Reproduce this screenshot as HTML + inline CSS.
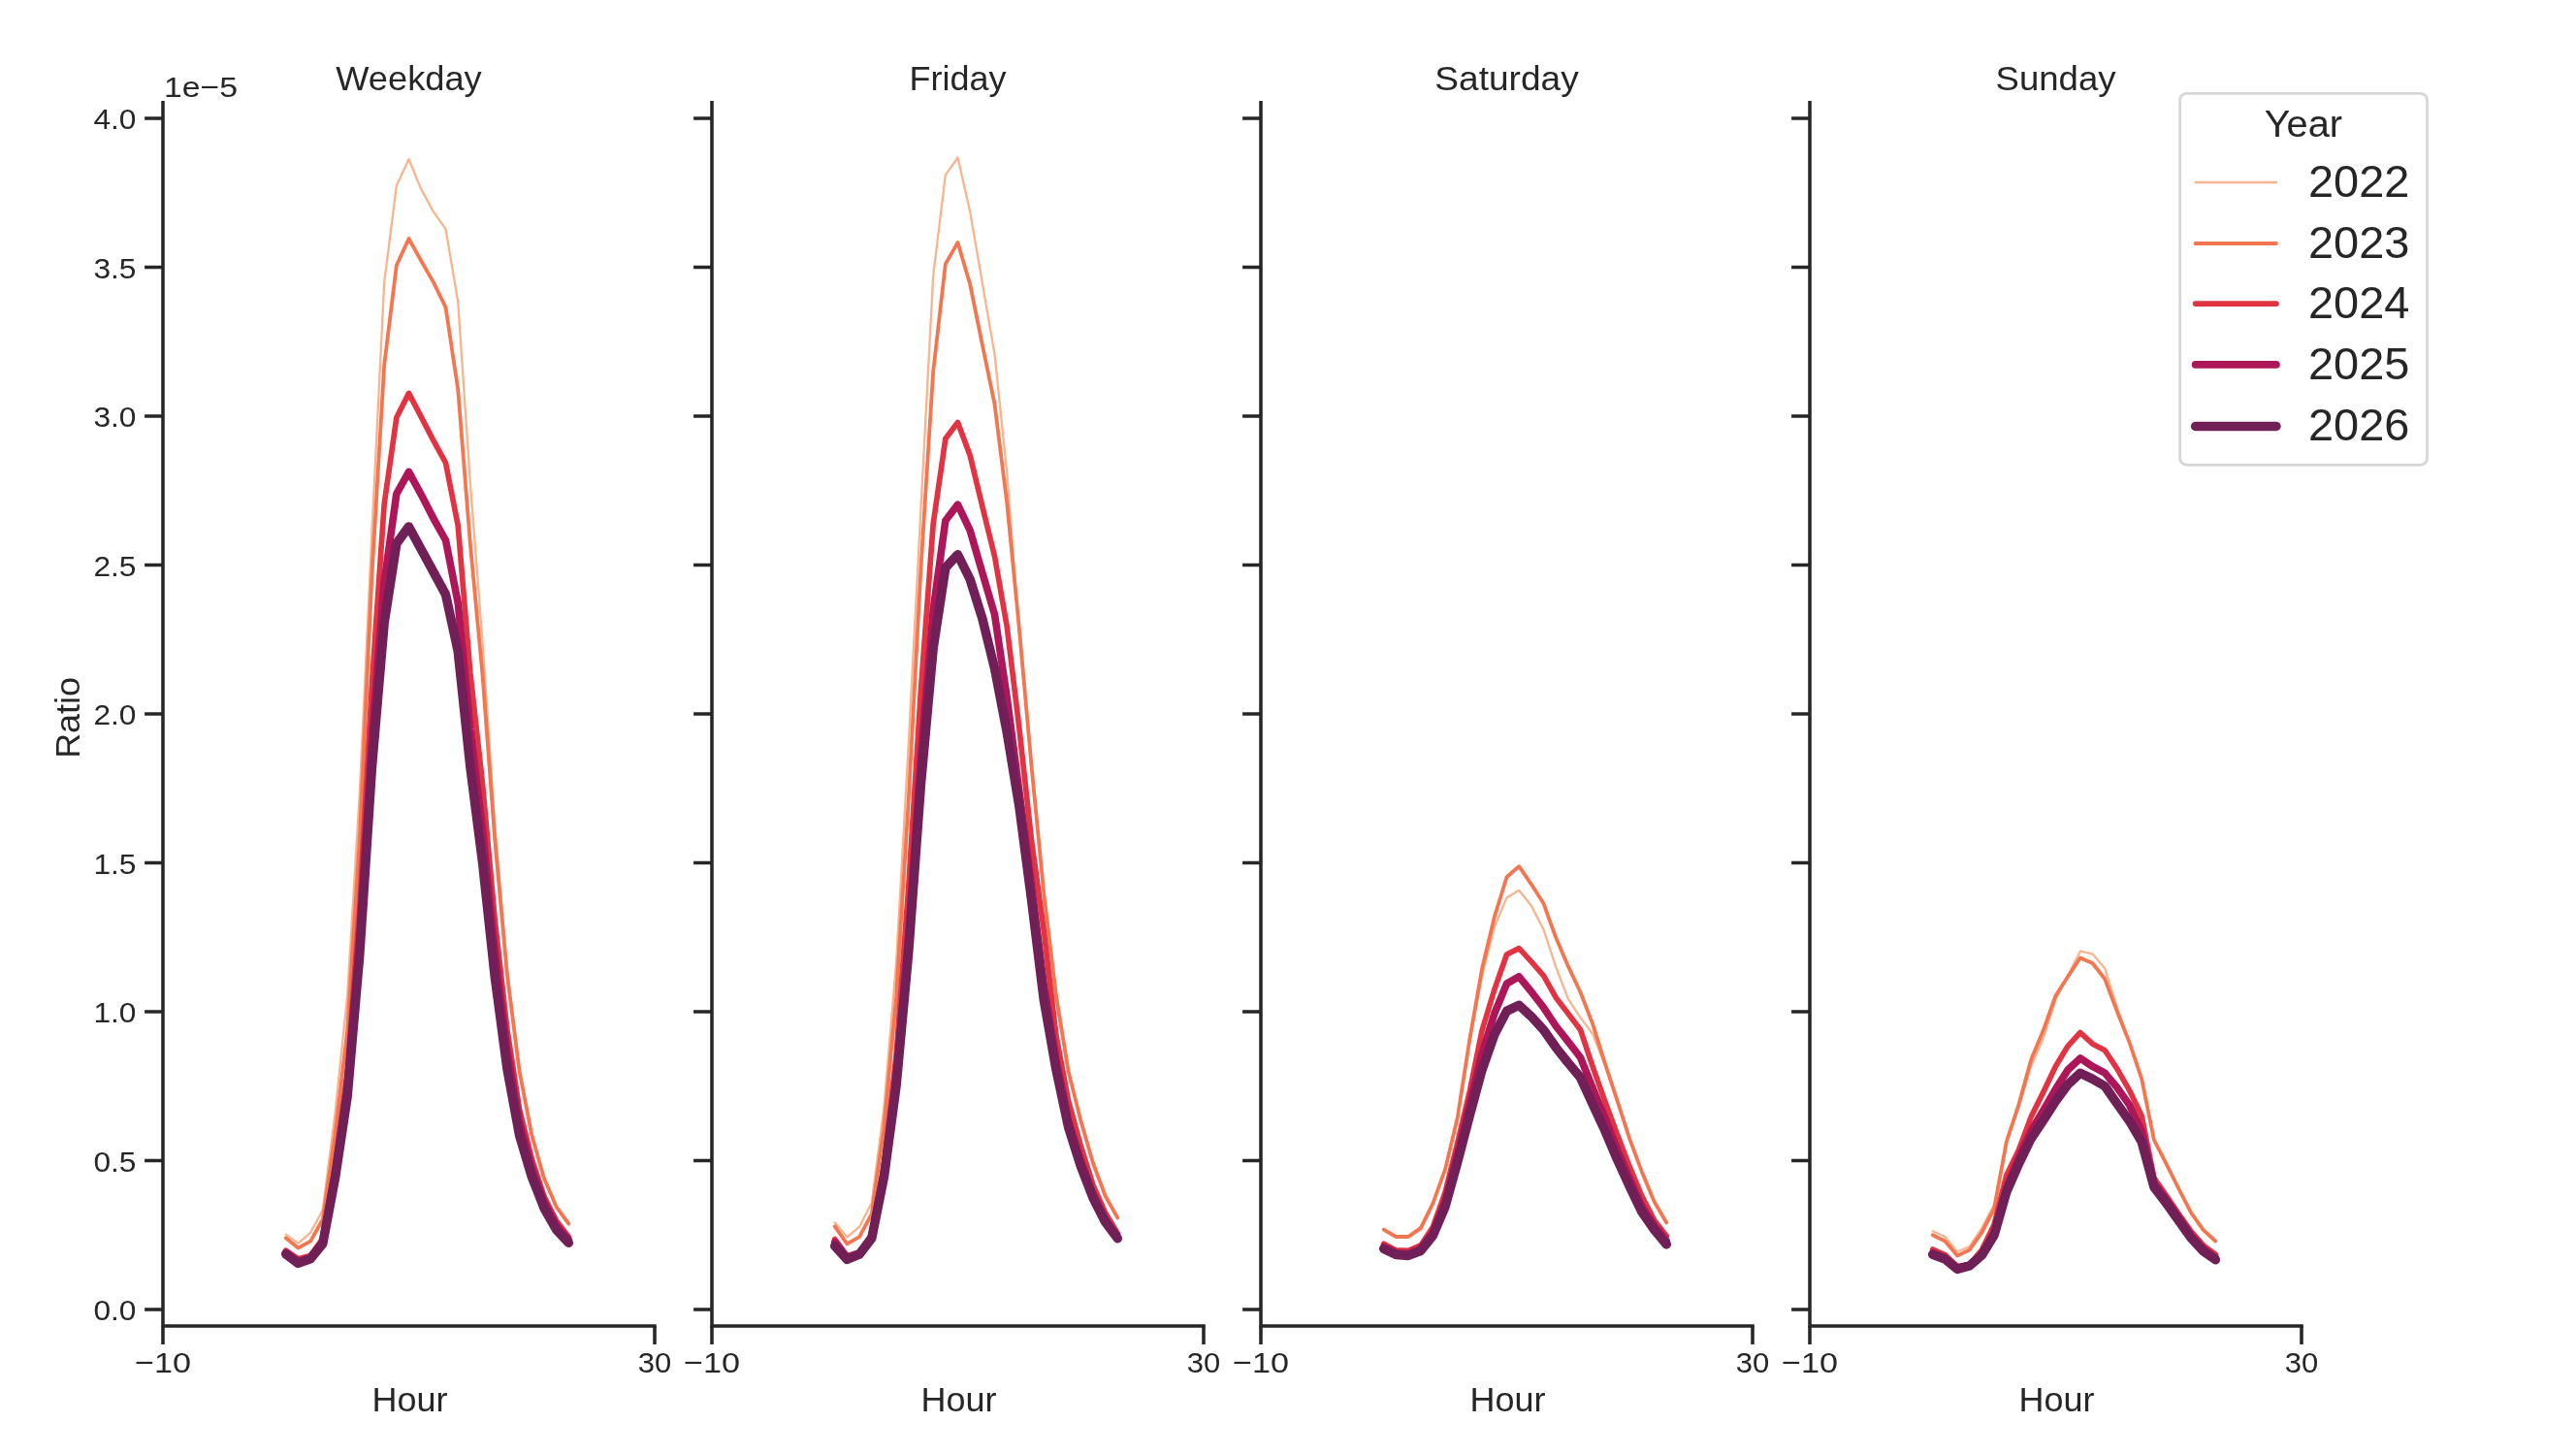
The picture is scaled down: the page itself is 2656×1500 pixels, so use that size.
<!DOCTYPE html>
<html lang="en">
<head>
<meta charset="utf-8">
<title>Ratio by Hour</title>
<style>
html,body{margin:0;padding:0;background:#ffffff;}
body{width:2656px;height:1500px;overflow:hidden;}
svg{display:block;will-change:transform;}
svg text{font-family:"Liberation Sans", sans-serif;fill:#262626;}
</style>
</head>
<body>
<svg width="2656" height="1500" viewBox="0 0 2656 1500">
<rect x="0" y="0" width="2656" height="1500" fill="#ffffff"/>
<polyline points="294.75,1272.57 307.43,1281.63 320.10,1270.92 332.77,1247.46 345.45,1148.46 358.12,1026.73 370.80,818.13 383.48,547.81 396.15,291.46 408.83,191.38 421.50,164.06 434.18,195.07 446.85,218.09 459.53,236.20 472.20,310.81 484.88,498.08 497.55,662.32 510.23,849.59 522.90,1000.02 535.58,1104.40 548.25,1171.94 560.92,1216.15 573.60,1245.31 586.28,1262.51" fill="none" stroke="#f6b48f" stroke-width="2.3" stroke-linejoin="round" stroke-linecap="round"/>
<polyline points="294.75,1276.32 307.43,1286.60 320.10,1279.57 332.77,1257.29 345.45,1170.40 358.12,1062.95 370.80,864.94 383.48,593.25 396.15,376.81 408.83,273.66 421.50,246.03 434.18,268.75 446.85,290.85 459.53,316.94 472.20,401.37 484.88,561.01 497.55,696.09 510.23,865.55 522.90,1004.62 535.58,1104.40 548.25,1169.91 560.92,1214.40 573.60,1244.09 586.28,1261.40" fill="none" stroke="#f37651" stroke-width="3.8" stroke-linejoin="round" stroke-linecap="round"/>
<polyline points="294.75,1289.21 307.43,1297.81 320.10,1294.43 332.77,1276.93 345.45,1201.93 358.12,1105.17 370.80,934.79 383.48,704.58 396.15,519.87 408.83,430.53 421.50,405.36 434.18,429.61 446.85,454.17 459.53,477.20 472.20,541.67 484.88,693.94 497.55,808.45 510.23,948.14 522.90,1061.42 535.58,1143.70 548.25,1194.66 560.92,1233.34 573.60,1258.51 586.28,1275.09" fill="none" stroke="#e13342" stroke-width="5.7" stroke-linejoin="round" stroke-linecap="round"/>
<polyline points="294.75,1291.36 307.43,1300.88 320.10,1296.28 332.77,1280.00 345.45,1209.89 358.12,1121.11 370.80,966.38 383.48,760.53 396.15,600.34 408.83,509.13 421.50,486.41 434.18,509.74 446.85,534.30 459.53,557.02 472.20,621.49 484.88,751.35 497.55,856.15 510.23,981.18 522.90,1082.91 535.58,1157.53 548.25,1203.95 560.92,1238.87 573.60,1263.35 586.28,1278.16" fill="none" stroke="#ad1759" stroke-width="7.6" stroke-linejoin="round" stroke-linecap="round"/>
<polyline points="294.75,1292.90 307.43,1302.41 320.10,1297.81 332.77,1282.15 345.45,1214.92 358.12,1130.49 370.80,984.06 383.48,790.65 396.15,642.36 408.83,560.40 421.50,542.90 434.18,566.23 446.85,589.56 459.53,612.89 472.20,671.22 484.88,790.65 497.55,889.50 510.23,1006.77 522.90,1101.94 535.58,1170.40 548.25,1213.08 560.92,1245.31 573.60,1267.72 586.28,1281.23" fill="none" stroke="#701f57" stroke-width="9.5" stroke-linejoin="round" stroke-linecap="round"/>
<path d="M168.00,105.85V1367.00H675.00" fill="none" stroke="#262626" stroke-width="3.55" stroke-linecap="square" stroke-linejoin="miter"/>
<path d="M168.00,1350.00h-18.90M168.00,1196.50h-18.90M168.00,1043.00h-18.90M168.00,889.50h-18.90M168.00,736.00h-18.90M168.00,582.50h-18.90M168.00,429.00h-18.90M168.00,275.50h-18.90M168.00,122.00h-18.90M168.00,1367.00v18.90M675.00,1367.00v18.90" fill="none" stroke="#262626" stroke-width="3.55"/>
<text x="421.5" y="93.0" font-size="34.5" text-anchor="middle" textLength="150.5" lengthAdjust="spacingAndGlyphs">Weekday</text>
<text x="168.0" y="1415.0" font-size="30.3" text-anchor="middle" textLength="58.0" lengthAdjust="spacingAndGlyphs">−10</text>
<text x="675.0" y="1415.0" font-size="30.3" text-anchor="middle" textLength="34.5" lengthAdjust="spacingAndGlyphs">30</text>
<text x="422.5" y="1455.0" font-size="34.5" text-anchor="middle" textLength="78.0" lengthAdjust="spacingAndGlyphs">Hour</text>
<polyline points="860.75,1260.20 873.42,1275.46 886.10,1264.75 898.77,1240.09 911.45,1141.59 924.12,991.44 936.80,766.70 949.48,524.17 962.15,284.71 974.83,180.33 987.50,162.52 1000.17,218.09 1012.85,291.77 1025.53,365.14 1038.20,487.02 1050.88,653.11 1063.55,792.80 1076.22,923.27 1088.90,1029.18 1101.58,1106.55 1114.25,1156.59 1126.92,1200.18 1139.60,1233.95 1152.28,1256.37" fill="none" stroke="#f6b48f" stroke-width="2.3" stroke-linejoin="round" stroke-linecap="round"/>
<polyline points="860.75,1264.35 873.42,1282.46 886.10,1275.03 898.77,1251.55 911.45,1162.97 924.12,1027.66 936.80,824.72 949.48,585.88 962.15,383.56 974.83,272.12 987.50,250.02 1000.17,293.00 1012.85,355.32 1025.53,416.72 1038.20,518.03 1050.88,647.89 1063.55,789.73 1076.22,920.20 1088.90,1026.12 1101.58,1104.40 1114.25,1155.06 1126.92,1198.77 1139.60,1232.73 1152.28,1255.32" fill="none" stroke="#f37651" stroke-width="3.8" stroke-linejoin="round" stroke-linecap="round"/>
<polyline points="860.75,1277.55 873.42,1294.74 886.10,1291.06 898.77,1273.25 911.45,1200.86 924.12,1087.42 936.80,913.45 949.48,711.44 962.15,540.44 974.83,452.33 987.50,435.45 1000.17,469.52 1012.85,522.02 1025.53,573.60 1038.20,645.74 1050.88,750.43 1063.55,866.48 1076.22,959.19 1088.90,1067.56 1101.58,1135.10 1114.25,1181.15 1126.92,1221.67 1139.60,1250.22 1152.28,1271.41" fill="none" stroke="#e13342" stroke-width="5.7" stroke-linejoin="round" stroke-linecap="round"/>
<polyline points="860.75,1280.80 873.42,1296.58 886.10,1291.67 898.77,1274.48 911.45,1208.61 924.12,1109.75 936.80,963.88 949.48,779.94 962.15,629.11 974.83,536.76 987.50,520.18 1000.17,546.89 1012.85,590.48 1025.53,633.46 1038.20,719.11 1050.88,815.82 1063.55,912.52 1076.22,1015.37 1088.90,1092.73 1101.58,1155.36 1114.25,1196.81 1126.92,1230.88 1139.60,1256.67 1152.28,1274.79" fill="none" stroke="#ad1759" stroke-width="7.6" stroke-linejoin="round" stroke-linecap="round"/>
<polyline points="860.75,1284.61 873.42,1298.42 886.10,1293.20 898.77,1276.63 911.45,1213.38 924.12,1119.14 936.80,980.99 949.48,808.14 962.15,668.46 974.83,585.26 987.50,571.75 1000.17,597.24 1012.85,637.76 1025.53,689.03 1038.20,754.73 1050.88,831.48 1063.55,927.88 1076.22,1030.41 1088.90,1102.56 1101.58,1162.12 1114.25,1202.03 1126.92,1234.88 1139.60,1259.74 1152.28,1276.78" fill="none" stroke="#701f57" stroke-width="9.5" stroke-linejoin="round" stroke-linecap="round"/>
<path d="M734.00,105.85V1367.00H1241.00" fill="none" stroke="#262626" stroke-width="3.55" stroke-linecap="square" stroke-linejoin="miter"/>
<path d="M734.00,1350.00h-18.90M734.00,1196.50h-18.90M734.00,1043.00h-18.90M734.00,889.50h-18.90M734.00,736.00h-18.90M734.00,582.50h-18.90M734.00,429.00h-18.90M734.00,275.50h-18.90M734.00,122.00h-18.90M734.00,1367.00v18.90M1241.00,1367.00v18.90" fill="none" stroke="#262626" stroke-width="3.55"/>
<text x="987.5" y="93.0" font-size="34.5" text-anchor="middle" textLength="100.0" lengthAdjust="spacingAndGlyphs">Friday</text>
<text x="734.0" y="1415.0" font-size="30.3" text-anchor="middle" textLength="58.0" lengthAdjust="spacingAndGlyphs">−10</text>
<text x="1241.0" y="1415.0" font-size="30.3" text-anchor="middle" textLength="34.5" lengthAdjust="spacingAndGlyphs">30</text>
<text x="988.5" y="1455.0" font-size="34.5" text-anchor="middle" textLength="78.0" lengthAdjust="spacingAndGlyphs">Hour</text>
<polyline points="1426.75,1267.72 1439.42,1275.00 1452.10,1274.17 1464.78,1264.65 1477.45,1239.48 1490.12,1205.40 1502.80,1152.11 1515.47,1072.16 1528.15,1006.47 1540.83,955.63 1553.50,925.42 1566.17,917.74 1578.85,933.71 1591.53,958.39 1604.20,996.80 1616.88,1029.80 1629.55,1049.14 1642.22,1066.03 1654.90,1098.26 1667.58,1135.71 1680.25,1174.70 1692.92,1208.78 1705.60,1239.17 1718.28,1260.97" fill="none" stroke="#f6b48f" stroke-width="2.3" stroke-linejoin="round" stroke-linecap="round"/>
<polyline points="1426.75,1267.72 1439.42,1275.00 1452.10,1275.00 1464.78,1266.40 1477.45,1240.71 1490.12,1205.40 1502.80,1152.11 1515.47,1070.63 1528.15,998.18 1540.83,945.37 1553.50,904.24 1566.17,893.18 1578.85,911.60 1591.53,931.56 1604.20,966.56 1616.88,996.18 1629.55,1023.05 1642.22,1055.89 1654.90,1096.42 1667.58,1134.92 1680.25,1174.09 1692.92,1208.17 1705.60,1238.68 1718.28,1260.45" fill="none" stroke="#f37651" stroke-width="3.8" stroke-linejoin="round" stroke-linecap="round"/>
<polyline points="1426.75,1282.21 1439.42,1288.91 1452.10,1289.37 1464.78,1283.99 1477.45,1264.90 1490.12,1229.04 1502.80,1178.23 1515.47,1124.66 1528.15,1062.03 1540.83,1020.28 1553.50,984.06 1566.17,977.61 1578.85,991.42 1591.53,1005.85 1604.20,1028.42 1616.88,1044.93 1629.55,1061.73 1642.22,1099.89 1654.90,1135.59 1667.58,1170.01 1680.25,1202.95 1692.92,1233.34 1705.60,1257.90 1718.28,1274.29" fill="none" stroke="#e13342" stroke-width="5.7" stroke-linejoin="round" stroke-linecap="round"/>
<polyline points="1426.75,1285.53 1439.42,1291.67 1452.10,1292.59 1464.78,1287.37 1477.45,1270.50 1490.12,1238.69 1502.80,1189.81 1515.47,1137.28 1528.15,1086.10 1540.83,1044.93 1553.50,1014.14 1566.17,1006.77 1578.85,1022.43 1591.53,1038.79 1604.20,1057.74 1616.88,1073.79 1629.55,1090.28 1642.22,1121.90 1654.90,1152.44 1667.58,1185.28 1680.25,1215.49 1692.92,1244.09 1705.60,1263.31 1718.28,1279.39" fill="none" stroke="#ad1759" stroke-width="7.6" stroke-linejoin="round" stroke-linecap="round"/>
<polyline points="1426.75,1287.49 1439.42,1293.51 1452.10,1294.43 1464.78,1289.52 1477.45,1273.68 1490.12,1243.78 1502.80,1198.04 1515.47,1149.38 1528.15,1102.56 1540.83,1066.64 1553.50,1042.39 1566.17,1036.25 1578.85,1047.91 1591.53,1061.73 1604.20,1079.84 1616.88,1095.80 1629.55,1110.91 1642.22,1138.48 1654.90,1165.80 1667.58,1195.58 1680.25,1223.21 1692.92,1249.61 1705.60,1267.72 1718.28,1282.89" fill="none" stroke="#701f57" stroke-width="9.5" stroke-linejoin="round" stroke-linecap="round"/>
<path d="M1300.00,105.85V1367.00H1807.00" fill="none" stroke="#262626" stroke-width="3.55" stroke-linecap="square" stroke-linejoin="miter"/>
<path d="M1300.00,1350.00h-18.90M1300.00,1196.50h-18.90M1300.00,1043.00h-18.90M1300.00,889.50h-18.90M1300.00,736.00h-18.90M1300.00,582.50h-18.90M1300.00,429.00h-18.90M1300.00,275.50h-18.90M1300.00,122.00h-18.90M1300.00,1367.00v18.90M1807.00,1367.00v18.90" fill="none" stroke="#262626" stroke-width="3.55"/>
<text x="1553.5" y="93.0" font-size="34.5" text-anchor="middle" textLength="148.5" lengthAdjust="spacingAndGlyphs">Saturday</text>
<text x="1300.0" y="1415.0" font-size="30.3" text-anchor="middle" textLength="58.0" lengthAdjust="spacingAndGlyphs">−10</text>
<text x="1807.0" y="1415.0" font-size="30.3" text-anchor="middle" textLength="34.5" lengthAdjust="spacingAndGlyphs">30</text>
<text x="1554.5" y="1455.0" font-size="34.5" text-anchor="middle" textLength="78.0" lengthAdjust="spacingAndGlyphs">Hour</text>
<polyline points="1992.75,1269.26 2005.42,1274.72 2018.10,1290.44 2030.78,1285.01 2043.45,1265.88 2056.12,1241.72 2068.80,1178.08 2081.47,1141.85 2094.15,1099.18 2106.82,1070.32 2119.50,1030.41 2132.18,1005.55 2144.85,980.68 2157.53,983.44 2170.20,998.18 2182.88,1038.70 2195.55,1074.62 2208.22,1113.00 2220.90,1175.62 2233.57,1200.49 2246.25,1225.66 2258.93,1250.38 2271.60,1268.18 2284.28,1279.85" fill="none" stroke="#f6b48f" stroke-width="2.3" stroke-linejoin="round" stroke-linecap="round"/>
<polyline points="1992.75,1273.25 2005.42,1279.51 2018.10,1294.65 2030.78,1288.45 2043.45,1270.58 2056.12,1245.93 2068.80,1177.16 2081.47,1138.48 2094.15,1092.43 2106.82,1062.10 2119.50,1026.42 2132.18,1006.77 2144.85,987.43 2157.53,992.96 2170.20,1009.23 2182.88,1042.91 2195.55,1074.62 2208.22,1112.38 2220.90,1175.01 2233.57,1199.88 2246.25,1225.24 2258.93,1249.98 2271.60,1267.85 2284.28,1279.51" fill="none" stroke="#f37651" stroke-width="3.8" stroke-linejoin="round" stroke-linecap="round"/>
<polyline points="1992.75,1287.99 2005.42,1293.51 2018.10,1305.48 2030.78,1303.64 2043.45,1288.60 2056.12,1262.35 2068.80,1211.54 2081.47,1185.45 2094.15,1151.37 2106.82,1125.89 2119.50,1099.18 2132.18,1078.31 2144.85,1064.49 2157.53,1076.16 2170.20,1082.70 2182.88,1101.94 2195.55,1124.05 2208.22,1150.45 2220.90,1214.31 2233.57,1232.73 2246.25,1251.36 2258.93,1269.26 2271.60,1283.69 2284.28,1293.20" fill="none" stroke="#e13342" stroke-width="5.7" stroke-linejoin="round" stroke-linecap="round"/>
<polyline points="1992.75,1291.67 2005.42,1296.58 2018.10,1307.33 2030.78,1304.26 2043.45,1292.74 2056.12,1271.03 2068.80,1224.37 2081.47,1193.43 2094.15,1165.80 2106.82,1144.62 2119.50,1122.61 2132.18,1102.87 2144.85,1090.89 2157.53,1099.49 2170.20,1106.09 2182.88,1121.29 2195.55,1139.09 2208.22,1165.80 2220.90,1219.53 2233.57,1236.50 2246.25,1254.80 2258.93,1273.25 2271.60,1287.40 2284.28,1296.58" fill="none" stroke="#ad1759" stroke-width="7.6" stroke-linejoin="round" stroke-linecap="round"/>
<polyline points="1992.75,1293.30 2005.42,1298.12 2018.10,1308.40 2030.78,1304.93 2043.45,1293.97 2056.12,1273.25 2068.80,1228.73 2081.47,1199.88 2094.15,1173.78 2106.82,1154.75 2119.50,1135.10 2132.18,1117.91 2144.85,1106.24 2157.53,1112.38 2170.20,1119.75 2182.88,1137.86 2195.55,1155.67 2208.22,1177.16 2220.90,1223.82 2233.57,1240.40 2246.25,1258.21 2258.93,1276.11 2271.60,1289.83 2284.28,1298.73" fill="none" stroke="#701f57" stroke-width="9.5" stroke-linejoin="round" stroke-linecap="round"/>
<path d="M1866.00,105.85V1367.00H2373.00" fill="none" stroke="#262626" stroke-width="3.55" stroke-linecap="square" stroke-linejoin="miter"/>
<path d="M1866.00,1350.00h-18.90M1866.00,1196.50h-18.90M1866.00,1043.00h-18.90M1866.00,889.50h-18.90M1866.00,736.00h-18.90M1866.00,582.50h-18.90M1866.00,429.00h-18.90M1866.00,275.50h-18.90M1866.00,122.00h-18.90M1866.00,1367.00v18.90M2373.00,1367.00v18.90" fill="none" stroke="#262626" stroke-width="3.55"/>
<text x="2119.5" y="93.0" font-size="34.5" text-anchor="middle" textLength="124.0" lengthAdjust="spacingAndGlyphs">Sunday</text>
<text x="1866.0" y="1415.0" font-size="30.3" text-anchor="middle" textLength="58.0" lengthAdjust="spacingAndGlyphs">−10</text>
<text x="2373.0" y="1415.0" font-size="30.3" text-anchor="middle" textLength="34.5" lengthAdjust="spacingAndGlyphs">30</text>
<text x="2120.5" y="1455.0" font-size="34.5" text-anchor="middle" textLength="78.0" lengthAdjust="spacingAndGlyphs">Hour</text>
<text x="140.4" y="1361.2" font-size="30.3" text-anchor="end" textLength="44.0" lengthAdjust="spacingAndGlyphs">0.0</text>
<text x="140.4" y="1207.7" font-size="30.3" text-anchor="end" textLength="44.0" lengthAdjust="spacingAndGlyphs">0.5</text>
<text x="140.4" y="1054.2" font-size="30.3" text-anchor="end" textLength="44.0" lengthAdjust="spacingAndGlyphs">1.0</text>
<text x="140.4" y="900.7" font-size="30.3" text-anchor="end" textLength="44.0" lengthAdjust="spacingAndGlyphs">1.5</text>
<text x="140.4" y="747.2" font-size="30.3" text-anchor="end" textLength="44.0" lengthAdjust="spacingAndGlyphs">2.0</text>
<text x="140.4" y="593.7" font-size="30.3" text-anchor="end" textLength="44.0" lengthAdjust="spacingAndGlyphs">2.5</text>
<text x="140.4" y="440.2" font-size="30.3" text-anchor="end" textLength="44.0" lengthAdjust="spacingAndGlyphs">3.0</text>
<text x="140.4" y="286.7" font-size="30.3" text-anchor="end" textLength="44.0" lengthAdjust="spacingAndGlyphs">3.5</text>
<text x="140.4" y="133.2" font-size="30.3" text-anchor="end" textLength="44.0" lengthAdjust="spacingAndGlyphs">4.0</text>
<text x="169.0" y="100.2" font-size="30.3" text-anchor="start" textLength="76.0" lengthAdjust="spacingAndGlyphs">1e−5</text>
<text transform="translate(82.3,740) rotate(-90)" font-size="34.5" text-anchor="middle" textLength="83.7" lengthAdjust="spacingAndGlyphs">Ratio</text>
<rect x="2247.7" y="96.3" width="254.8" height="383.1" rx="7" ry="7" fill="#ffffff" fill-opacity="0.8" stroke="#cccccc" stroke-opacity="0.8" stroke-width="2.8"/>
<text x="2374.9" y="141.3" font-size="39.2" text-anchor="middle" textLength="80.5" lengthAdjust="spacingAndGlyphs">Year</text>
<line x1="2263.6" y1="188.0" x2="2347" y2="188.0" stroke="#f6b48f" stroke-width="2.3" stroke-linecap="round"/>
<text x="2380.0" y="202.9" font-size="46.8" text-anchor="start" textLength="104.4" lengthAdjust="spacingAndGlyphs">2022</text>
<line x1="2263.6" y1="251.0" x2="2347" y2="251.0" stroke="#f37651" stroke-width="3.8" stroke-linecap="round"/>
<text x="2380.0" y="265.9" font-size="46.8" text-anchor="start" textLength="104.4" lengthAdjust="spacingAndGlyphs">2023</text>
<line x1="2263.6" y1="313.1" x2="2347" y2="313.1" stroke="#e13342" stroke-width="5.7" stroke-linecap="round"/>
<text x="2380.0" y="328.0" font-size="46.8" text-anchor="start" textLength="104.4" lengthAdjust="spacingAndGlyphs">2024</text>
<line x1="2263.6" y1="375.9" x2="2347" y2="375.9" stroke="#ad1759" stroke-width="7.6" stroke-linecap="round"/>
<text x="2380.0" y="390.8" font-size="46.8" text-anchor="start" textLength="104.4" lengthAdjust="spacingAndGlyphs">2025</text>
<line x1="2263.6" y1="439.5" x2="2347" y2="439.5" stroke="#701f57" stroke-width="9.5" stroke-linecap="round"/>
<text x="2380.0" y="454.4" font-size="46.8" text-anchor="start" textLength="104.4" lengthAdjust="spacingAndGlyphs">2026</text>
</svg>
</body>
</html>
